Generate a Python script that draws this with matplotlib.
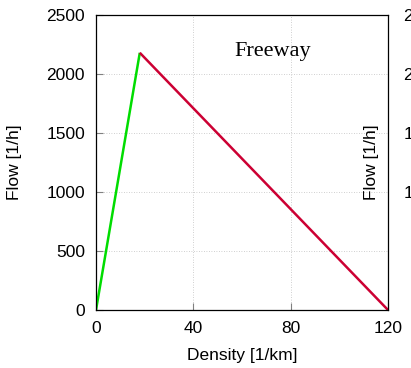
import matplotlib
matplotlib.use("Agg")
import matplotlib.pyplot as plt

plt.rcParams['font.family'] = ['Liberation Sans', 'DejaVu Sans']

# Data (fundamental diagram, freeway)
free_density = [0, 18]
free_flow = [0, 2180]
cong_density = [18, 120]
cong_flow = [2180, 0]
xticks = [0, 40, 80, 120]
yticks = [0, 500, 1000, 1500, 2000, 2500]
title_text = "Freeway"

W, H = 411, 368
fig = plt.figure(figsize=(W / 100, H / 100), dpi=100)

def make_axes(left_px):
    ax = fig.add_axes([left_px / W, (H - 310) / H, 292 / W, 295 / H])
    ax.set_xlim(0, 120)
    ax.set_ylim(0, 2500)
    ax.set_xticks(xticks)
    ax.set_yticks(yticks)
    ax.tick_params(direction='in', length=5, width=0.8, color='#808080',
                   labelsize=12.5, pad=8, top=False, right=False)
    ax.grid(True, linestyle=(0, (1, 2)), color='#c0c0c0', linewidth=0.6)
    for s in ax.spines.values():
        s.set_color('black')
        s.set_linewidth(0.9)
    ax.set_xlabel('Density [1/km]', fontsize=12.5)
    ax.set_ylabel('Flow [1/h]', fontsize=12.5)
    ax.yaxis.set_label_coords(-0.255, 0.5)
    ax.xaxis.set_label_coords(0.5, -0.128)
    return ax

ax = make_axes(96)
ax.plot(free_density, free_flow, color='#00dd00', linewidth=1.8, solid_capstyle='butt')
ax.plot(cong_density, cong_flow, color='#cc0033', linewidth=1.8, solid_capstyle='butt')
ax.text(57, 2150, title_text, family=['Liberation Serif', 'DejaVu Serif'],
        fontsize=16, va='baseline', ha='left')

ax2 = make_axes(453)
ax2.plot(free_density, free_flow, color='#00dd00', linewidth=1.8)
ax2.plot(cong_density, cong_flow, color='#cc0033', linewidth=1.8)

fig.savefig('out.png', dpi=100)
